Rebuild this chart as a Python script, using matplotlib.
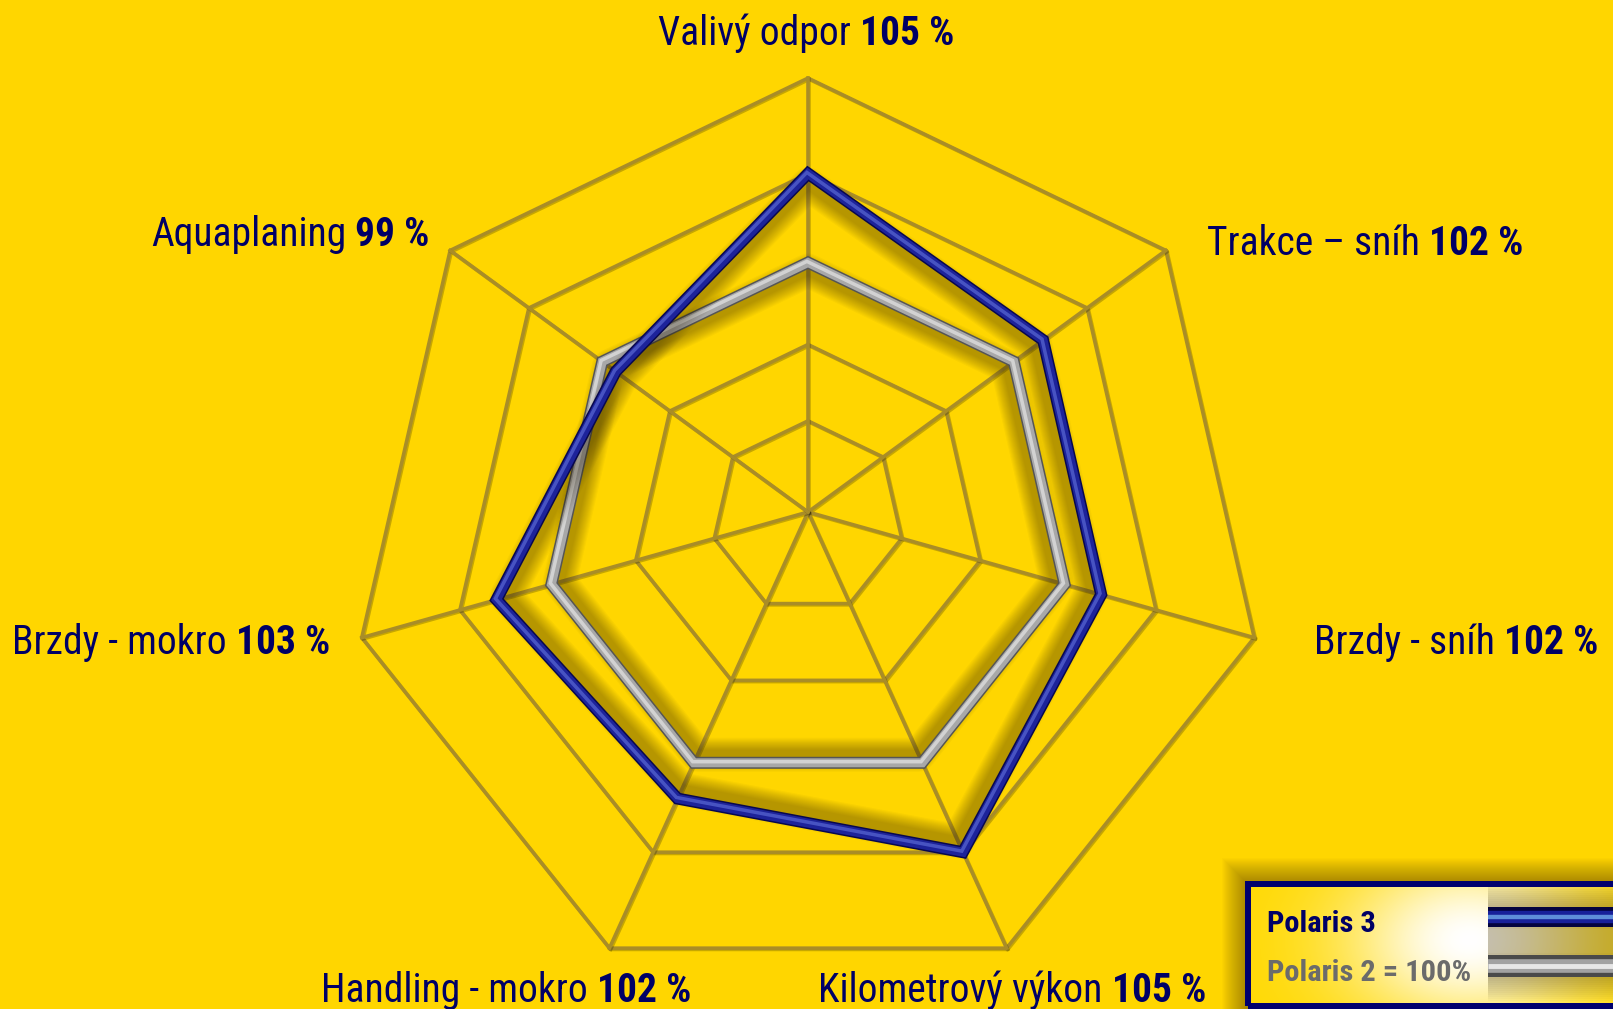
import numpy as np
import matplotlib
matplotlib.use("Agg")
import matplotlib.pyplot as plt
import matplotlib.patheffects as pe
from matplotlib import font_manager as fm
from matplotlib.patches import Polygon, Rectangle

# ---------------- data ----------------
categories = ["Valivý odpor", "Trakce – sníh", "Brzdy - sníh", "Kilometrový výkon",
              "Handling - mokro", "Brzdy - mokro", "Aquaplaning"]
polaris3 = [105, 102, 102, 105, 102, 103, 99]
polaris2 = [100, 100, 100, 100, 100, 100, 100]
grid_values = [90, 95, 100, 105, 110]
axis_min = 85
series_names = ["Polaris 3", "Polaris 2 = 100%"]

# ---------------- style / layout ----------------
W, H, DPI = 1613, 1009, 100
PX = 72 / DPI
BG = "#FFD600"
NAVY = "#000066"
GRID = "#A98D27"

SCALE_VALUES = [85, 90, 95, 100, 105, 110]
SCALE_FRAC = [0.0, 0.21, 0.386, 0.575, 0.78, 1.0]
SKEW = 0.052
R_PX = 457.7
APEX = (808, 512)


def pick_font():
    weights = {}
    for f in fm.fontManager.ttflist:
        weights.setdefault(f.name, set()).add(int(f.weight) if str(f.weight).isdigit() else 400)
    for fam in ["Liberation Sans Narrow", "Roboto Condensed", "PT Sans Narrow", "Archivo Narrow",
                "Pragati Narrow", "IBM Plex Sans Condensed"]:
        ws = weights.get(fam, set())
        if 400 in ws and any(w >= 700 for w in ws):
            return fam
    return "Liberation Sans"


FONT = pick_font()

n = len(categories)
theta = 2 * np.pi * np.arange(n) / n


def project(vals):
    f = np.interp(np.asarray(vals, float), SCALE_VALUES, SCALE_FRAC)
    return np.column_stack([f * np.sin(theta), f * (np.cos(theta) - SKEW)])


def px2data(px, py):
    return (px - APEX[0]) / R_PX, (APEX[1] - py) / R_PX


fig = plt.figure(figsize=(W / DPI, H / DPI), dpi=DPI, facecolor=BG)
renderer = fig.canvas.get_renderer()


def text_width(s, size, weight="normal"):
    t = fig.text(0, 0, s, fontsize=size, family=FONT, fontweight=weight)
    w = t.get_window_extent(renderer).width
    t.remove()
    return w


LABEL_FS = min(31.0, 30 * 296 / (text_width("Valivý odpor ", 30) + text_width("105 %", 30, "bold")))
LEG_FS = min(24.0, 23 * 204 / text_width("Polaris 2 = 100%", 23, "bold"))
SPACE_PX = text_width("a a", LABEL_FS) - text_width("aa", LABEL_FS)

ax = fig.add_axes([0, 0, 1, 1])
XL = (-APEX[0] / R_PX, (W - APEX[0]) / R_PX)
YL = (-(H - APEX[1]) / R_PX, APEX[1] / R_PX)
ax.set_xlim(*XL)
ax.set_ylim(*YL)
ax.axis("off")

# ---------------- grid ----------------
grid_pe = [pe.SimpleLineShadow(offset=(0.9, -0.9), shadow_color="k", alpha=0.22), pe.Normal()]
for gv in grid_values:
    ax.add_patch(Polygon(project([gv] * n), closed=True, fill=False, edgecolor=GRID,
                         lw=3.6 * PX, joinstyle="miter", path_effects=grid_pe, zorder=2))
centre = project([axis_min] * n)
outer = project([grid_values[-1]] * n)
for i in range(n):
    ax.plot([centre[i, 0], outer[i, 0]], [centre[i, 1], outer[i, 1]], color=GRID,
            lw=3.6 * PX, path_effects=grid_pe, zorder=2)


# ---------------- series ----------------
def draw_series(vals, edge, main, hi, z):
    xy = project(vals)
    sh = xy * 0.968
    for k in range(12):
        ax.add_patch(Polygon(sh, closed=True, fill=False, edgecolor="#2a1e00", alpha=0.03,
                             lw=(34 - 2.2 * k) * PX, joinstyle="round", zorder=z))
    ax.add_patch(Polygon(xy, closed=True, fill=False, edgecolor=main, lw=9 * PX,
                         joinstyle="miter", zorder=z + 1,
                         path_effects=[pe.Stroke(linewidth=12 * PX, foreground=edge),
                                       pe.Normal(),
                                       pe.Stroke(linewidth=3.5 * PX, foreground=hi,
                                                 offset=(-0.8, 0.8), alpha=0.7)]))


draw_series(polaris2, "#555555", "#A8A8A8", "#E4E4E4", 4)
draw_series(polaris3, "#08084E", "#1D239A", "#5A68D4", 6)

# ---------------- labels ----------------
LABEL_POS = [(658, 45), (1207, 255), (1314, 654), (818, 1002), (321, 1002), (12, 654), (151, 246)]
for cat, val, (lx, ly) in zip(categories, polaris3, LABEL_POS):
    t = fig.text(lx / W, 1 - ly / H, cat, fontsize=LABEL_FS, color=NAVY, family=FONT,
                 ha="left", va="baseline")
    ax.annotate(f"{val} %", xy=(1, 0), xycoords=t, xytext=(SPACE_PX, 0),
                textcoords="offset pixels", ha="left", va="bottom", fontsize=LABEL_FS,
                fontweight="bold", color=NAVY, family=FONT, annotation_clip=False)

# ---------------- legend ----------------
L, T, R, B = 1248, 884, 1640, 1006
for d in range(1, 27):
    x0, y0 = px2data(L - d, B + d)
    x1, y1 = px2data(R + d, T - d)
    ax.add_patch(Rectangle((x0, y0), x1 - x0, y1 - y0, facecolor="#3a2a00", edgecolor="none",
                           alpha=0.018, zorder=8))
gx = np.linspace(L, R, 400)
gy = np.linspace(T, B, 140)
GX, GY = np.meshgrid(gx, gy)
w = np.exp(-((GX - 1470) / 125) ** 2 - ((GY - 940) / 85) ** 2)
yel = np.array([1.0, 0.85, 0.0])
img = yel[None, None, :] * (1 - w[..., None]) + np.ones(3)[None, None, :] * w[..., None]
ex0, ey0 = px2data(L, B)
ex1, ey1 = px2data(R, T)
ax.imshow(img, extent=[ex0, ex1, ey0, ey1], origin="upper", aspect="auto",
          interpolation="bilinear", zorder=9)
ax.set_xlim(*XL)
ax.set_ylim(*YL)
ax.add_patch(Rectangle((ex0, ey0), ex1 - ex0, ey1 - ey0, fill=False, edgecolor="#00006E",
                       lw=6 * PX, zorder=12))

KEYS = [("#18209A", "#03033F", "#78B4F0", 917, 20), ("#A2A2A2", "#4A4A4A", "#FFFFFF", 966, 22)]
for (col, dark, light, ky, kh) in KEYS:
    kx0, kyd = px2data(1488, ky)
    kx1, _ = px2data(1660, ky)
    shadow = [pe.Stroke(linewidth=(kh + 2 * s) * PX, foreground="#4a3800", alpha=0.03)
              for s in range(24, 0, -2)]
    ax.plot([kx0, kx1], [kyd, kyd], color=col, lw=kh * PX, solid_capstyle="butt", zorder=11,
            path_effects=shadow + [pe.Stroke(linewidth=kh * PX, foreground=dark),
                                   pe.Stroke(linewidth=kh * 0.62 * PX, foreground=col),
                                   pe.Stroke(linewidth=kh * 0.22 * PX, foreground=light,
                                             alpha=0.75)])

LEG_TEXT = [(1267, 932, NAVY), (1267, 981, "#6B6B6B")]
for name, (tx, ty, c) in zip(series_names, LEG_TEXT):
    ax.text(*px2data(tx, ty), name, fontsize=LEG_FS, fontweight="bold", color=c, family=FONT,
            ha="left", va="baseline", zorder=13)

fig.savefig("out.png", dpi=DPI, facecolor=BG)
